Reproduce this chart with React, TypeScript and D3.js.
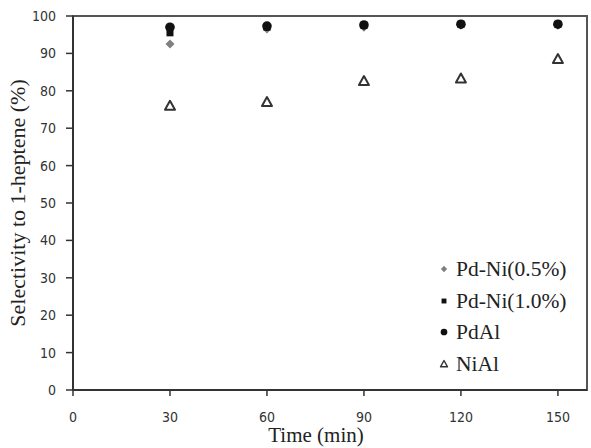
import * as d3 from "d3";

const times = [30, 60, 90, 120, 150];
const pdNi05 = [92.5, 96.5, 97, 97.5, 97.5];
const pdNi10 = [95.5, 97, 97.5, 97.8, 97.8];
const pdAl = [97, 97.3, 97.6, 97.8, 97.8];
const niAl = [76, 77, 82.6, 83.3, 88.5];
const xTicks = [0, 30, 60, 90, 120, 150];
const yTicks = [0, 10, 20, 30, 40, 50, 60, 70, 80, 90, 100];
const seriesNames = ["Pd-Ni(0.5%)", "Pd-Ni(1.0%)", "PdAl", "NiAl"];

const W = 591;
const H = 448;
const m = { left: 73, right: 4, top: 16, bottom: 58 };

const x = d3.scaleLinear().domain([0, 159]).range([m.left, W - m.right]);
const y = d3.scaleLinear().domain([0, 100]).range([H - m.bottom, m.top]);

const tickFont = "'DejaVu Sans Condensed', 'DejaVu Sans', sans-serif";
const serif = "'Liberation Serif', serif";

function Marker({ kind, cx, cy, k = 1 }: { kind: number; cx: number; cy: number; k?: number }) {
  if (kind === 0) {
    const s = 4.5 * k;
    return <path d={`M${cx},${cy - s}L${cx + s},${cy}L${cx},${cy + s}L${cx - s},${cy}Z`} fill="#808080" />;
  }
  if (kind === 1) {
    const s = 3.5 * k;
    return <rect x={cx - s} y={cy - s} width={2 * s} height={2 * s} fill="#111" />;
  }
  if (kind === 2) return <circle cx={cx} cy={cy} r={4.8 * k} fill="#111" />;
  const s = 5 * k;
  return (
    <path
      d={`M${cx},${cy - s}L${cx + s},${cy + s * 0.8}L${cx - s},${cy + s * 0.8}Z`}
      fill="white"
      stroke="#333"
      strokeWidth={2 * k}
      strokeLinejoin="round"
    />
  );
}

export default function App() {
  const series = [pdNi05, pdNi10, pdAl, niAl];
  const drawOrder = [3, 0, 1, 2];
  const legendY = [269, 301, 332, 364];
  return (
    <svg width={W} height={H} style={{ position: "absolute", left: 0, top: 0, background: "white" }}>
      <rect x={x(0)} y={y(100)} width={x(159) - x(0)} height={y(0) - y(100)} fill="none" stroke="#555" strokeWidth={2} />
      <line x1={x(0)} x2={x(0)} y1={y(0)} y2={y(100)} stroke="#333" strokeWidth={2} />
      <line x1={x(0)} x2={x(159)} y1={y(0)} y2={y(0)} stroke="#333" strokeWidth={2} />
      {yTicks.map((t) => (
        <g key={"y" + t}>
          <line x1={x(0) - 7} x2={x(0)} y1={y(t)} y2={y(t)} stroke="#333" strokeWidth={1.5} />
          <text x={x(0) - 17} y={y(t)} dy="0.36em" textAnchor="end" fontFamily={tickFont} fontSize={14} fill="#333">
            {t}
          </text>
        </g>
      ))}
      {xTicks.map((t) => (
        <g key={"x" + t}>
          <line x1={x(t)} x2={x(t)} y1={y(0)} y2={y(0) + 6} stroke="#333" strokeWidth={1.5} />
          <text x={x(t)} y={y(0) + 27} dy="0.36em" textAnchor="middle" fontFamily={tickFont} fontSize={14} fill="#333">
            {t}
          </text>
        </g>
      ))}
      {drawOrder.map((si) =>
        times.map((t, i) => <Marker key={si + "-" + i} kind={si} cx={x(t)} cy={y(series[si][i])} />)
      )}
      {seriesNames.map((n, i) => (
        <g key={n}>
          <Marker kind={i} cx={444} cy={legendY[i]} k={0.7} />
          <text x={456} y={legendY[i]} dy="0.34em" fontFamily={serif} fontSize={21.5} fill="#222">
            {n}
          </text>
        </g>
      ))}
      <text
        transform={`translate(25,${(y(0) + y(100)) / 2}) rotate(-90)`}
        textAnchor="middle"
        fontFamily={serif}
        fontSize={22}
        fill="#222"
      >
        Selectivity to 1-heptene (%)
      </text>
      <text x={316} y={442} textAnchor="middle" fontFamily={serif} fontSize={21} fill="#222">
        Time (min)
      </text>
    </svg>
  );
}
